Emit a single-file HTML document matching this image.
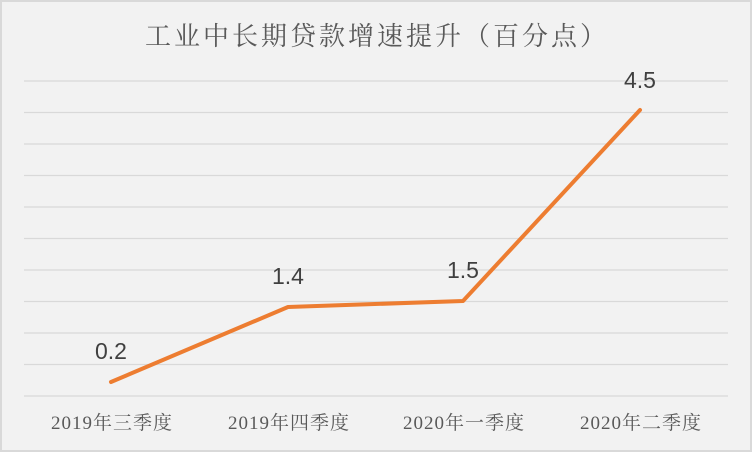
<!DOCTYPE html>
<html><head><meta charset="utf-8"><style>
html,body{margin:0;padding:0;background:#f2f2f2;}
svg{display:block;}
</style></head><body>
<svg width="752" height="452" xmlns="http://www.w3.org/2000/svg">
<rect x="1" y="1" width="750" height="450" fill="#f2f2f2" stroke="#d9d9d9" stroke-width="2"/>
<text x="377" y="45" text-anchor="middle" font-family="'Liberation Serif','Noto Serif CJK SC',serif" font-size="26" fill="#595959" letter-spacing="3">工业中长期贷款增速提升（百分点）</text>
<g stroke="#d9d9d9" stroke-width="1.3">
<line x1="24" x2="728" y1="81" y2="81"/>
<line x1="24" x2="728" y1="112.5" y2="112.5"/>
<line x1="24" x2="728" y1="144" y2="144"/>
<line x1="24" x2="728" y1="175.5" y2="175.5"/>
<line x1="24" x2="728" y1="207" y2="207"/>
<line x1="24" x2="728" y1="238.5" y2="238.5"/>
<line x1="24" x2="728" y1="270" y2="270"/>
<line x1="24" x2="728" y1="301.5" y2="301.5"/>
<line x1="24" x2="728" y1="333" y2="333"/>
<line x1="24" x2="728" y1="364.5" y2="364.5"/>
<line x1="24" x2="728" y1="396" y2="396"/>
</g>
<polyline points="111,382 288,307 463,301 640,110" fill="none" stroke="#ed7d31" stroke-width="4" stroke-linejoin="round" stroke-linecap="round"/>
<g font-family="'Liberation Sans','DejaVu Sans',sans-serif" font-size="23" fill="#404040" text-anchor="middle">
<text x="111" y="359">0.2</text>
<text x="288" y="284">1.4</text>
<text x="463" y="278">1.5</text>
<text x="640" y="88">4.5</text>
</g>
<g font-family="'Liberation Serif','Noto Serif CJK SC',serif" font-size="19" fill="#595959" text-anchor="middle" letter-spacing="1">
<text x="112" y="429">2019年三季度</text>
<text x="289" y="429">2019年四季度</text>
<text x="464" y="429">2020年一季度</text>
<text x="641" y="429">2020年二季度</text>
</g>
</svg>
</body></html>
